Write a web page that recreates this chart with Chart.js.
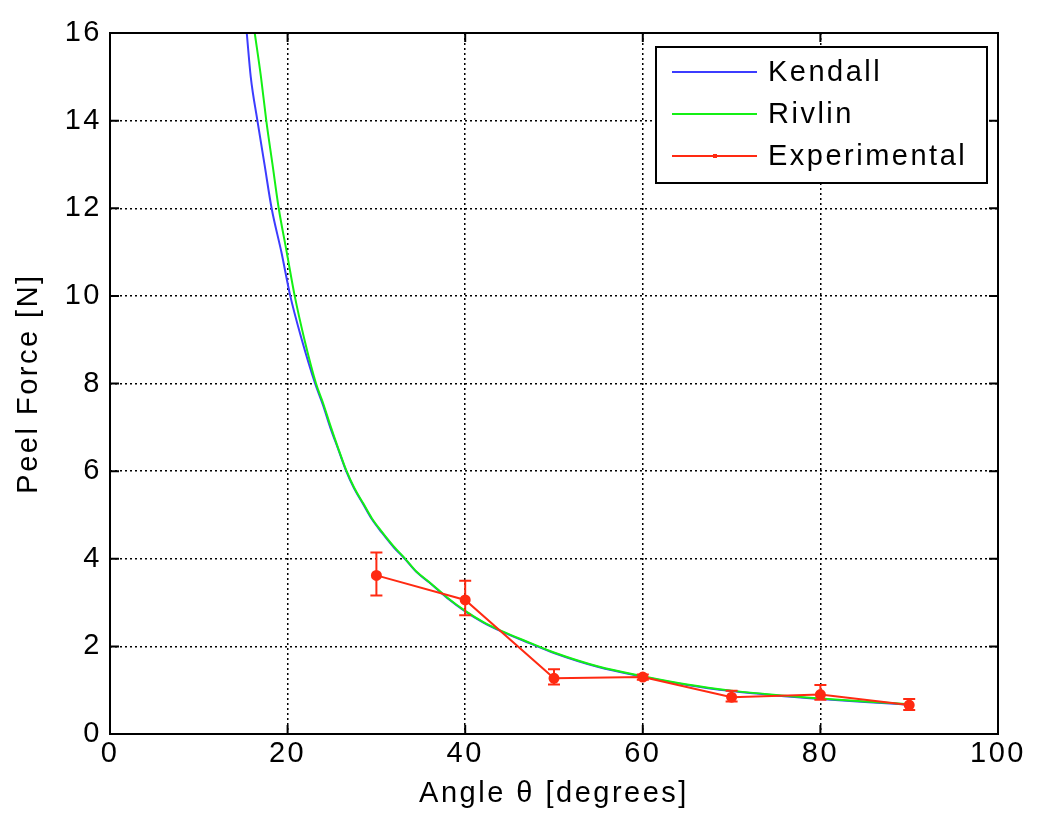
<!DOCTYPE html>
<html>
<head>
<meta charset="utf-8">
<script src="https://cdn.jsdelivr.net/npm/chart.js@4"></script>
<style>
  body { margin: 0; background: #fff; }
  #chart { display: block; }
</style>
</head>
<body>
<canvas id="chart" width="1038" height="813"></canvas>
<script>
// values
const kendallAngle = [15.4, 15.85, 16.6, 17.4, 18.2, 19.3, 20.3, 21.6, 23.1, 24.0, 24.8, 25.7, 26.6, 27.5, 28.5, 29.5, 30.6, 32.0, 33.2, 34.5, 36.0, 38.0, 40.0, 42.0, 44.0, 47.3, 50.0, 55.0, 60.0, 65.0, 70.0, 75.0, 80.0, 85.0, 90.0];
const kendallForce = [16.0, 15.0, 14.0, 13.0, 12.0, 11.0, 10.0, 9.0, 8.0, 7.5, 7.0, 6.5, 6.0, 5.6, 5.25, 4.9, 4.6, 4.25, 4.0, 3.7, 3.45, 3.1, 2.8, 2.55, 2.35, 2.07, 1.85, 1.53, 1.31, 1.12, 0.98, 0.88, 0.80, 0.73, 0.67];

const rivlinAngle = [16.3, 17.0, 17.6, 18.3, 19.0, 19.9, 20.8, 21.9, 23.2, 24.0, 24.8, 25.7, 26.6, 27.5, 28.5, 29.5, 30.6, 32.0, 33.2, 34.5, 36.0, 38.0, 40.0, 42.0, 44.0, 47.3, 50.0, 55.0, 60.0, 65.0, 70.0, 75.0, 80.0, 85.0, 90.0];
const rivlinForce = [16.0, 15.0, 14.0, 13.0, 12.0, 11.0, 10.0, 9.0, 8.0, 7.55, 7.05, 6.52, 6.02, 5.62, 5.27, 4.92, 4.62, 4.27, 4.01, 3.71, 3.46, 3.11, 2.81, 2.56, 2.36, 2.08, 1.86, 1.54, 1.32, 1.13, 0.99, 0.89, 0.81, 0.74, 0.68];

const expAngle = [30, 40, 50, 60, 70, 80, 90];
const expForce = [3.62, 3.06, 1.27, 1.30, 0.84, 0.90, 0.66];
const expUpper = [4.14, 3.50, 1.48, 1.36, 0.99, 1.12, 0.80];
const expLower = [3.16, 2.71, 1.13, 1.24, 0.74, 0.78, 0.55];

const xTicks = [0, 20, 40, 60, 80, 100];
const yTicks = [0, 2, 4, 6, 8, 10, 12, 14, 16];

const toPoints = (xs, ys) => xs.map((x, i) => ({ x: x, y: ys[i] }));

Chart.defaults.font.family = "'Liberation Sans', Arial, sans-serif";
Chart.defaults.color = '#000';

// wider letter spacing like the original figure font
// (set before each draw, the canvas state is reset when chart sizes it)
const spacing = {
  id: 'spacing',
  beforeDraw(chart) { chart.ctx.letterSpacing = '2.5px'; }
};

// error bars for the experimental series
const errorBars = {
  id: 'errorBars',
  afterDatasetsDraw(chart) {
    const ctx = chart.ctx;
    const xs = chart.scales.x, ys = chart.scales.y;
    ctx.save();
    ctx.strokeStyle = '#ff2a12';
    ctx.lineWidth = 2;
    expAngle.forEach((a, i) => {
      const px = xs.getPixelForValue(a);
      const top = ys.getPixelForValue(expUpper[i]);
      const bot = ys.getPixelForValue(expLower[i]);
      ctx.beginPath();
      ctx.moveTo(px, top); ctx.lineTo(px, bot);
      ctx.moveTo(px - 6, top); ctx.lineTo(px + 6, top);
      ctx.moveTo(px - 6, bot); ctx.lineTo(px + 6, bot);
      ctx.stroke();
    });
    ctx.restore();
  }
};

// matlab style box, inward ticks and legend
const frame = {
  id: 'frame',
  afterDraw(chart) {
    const ctx = chart.ctx;
    const a = chart.chartArea;
    const xs = chart.scales.x, ys = chart.scales.y;
    ctx.save();
    ctx.strokeStyle = '#000';
    ctx.lineWidth = 2;
    ctx.strokeRect(a.left, a.top, a.right - a.left, a.bottom - a.top);
    ctx.beginPath();
    xTicks.forEach(v => {
      const px = xs.getPixelForValue(v);
      ctx.moveTo(px, a.bottom); ctx.lineTo(px, a.bottom - 9);
      ctx.moveTo(px, a.top); ctx.lineTo(px, a.top + 9);
    });
    yTicks.forEach(v => {
      const py = ys.getPixelForValue(v);
      ctx.moveTo(a.left, py); ctx.lineTo(a.left + 9, py);
      ctx.moveTo(a.right, py); ctx.lineTo(a.right - 9, py);
    });
    ctx.stroke();

    // legend box
    const lx = 656, ly = 47, lw = 331, lh = 136;
    ctx.fillStyle = '#fff';
    ctx.fillRect(lx, ly, lw, lh);
    ctx.strokeRect(lx, ly, lw, lh);
    ctx.font = "29px 'Liberation Sans', Arial, sans-serif";
    ctx.letterSpacing = '2.5px';
    ctx.textBaseline = 'middle';
    const names = ['Kendall', 'Rivlin', 'Experimental'];
    names.forEach((name, i) => {
      const ds = chart.data.datasets.find(d => d.label === name);
      const y = ly + 25 + i * 42;
      ctx.strokeStyle = ds.borderColor;
      ctx.lineWidth = 2;
      ctx.beginPath();
      ctx.moveTo(672, y); ctx.lineTo(757, y);
      ctx.stroke();
      if (name === 'Experimental') {
        ctx.fillStyle = ds.borderColor;
        ctx.fillRect(713, y - 2, 4, 4);
      }
      ctx.fillStyle = '#000';
      ctx.fillText(name, 768, y + 1);
    });
    ctx.restore();
  }
};

const ctx = document.getElementById('chart').getContext('2d');
new Chart(ctx, {
  type: 'line',
  data: {
    datasets: [
      {
        label: 'Experimental',
        data: toPoints(expAngle, expForce),
        borderColor: '#ff2a12',
        backgroundColor: '#ff2a12',
        borderWidth: 2,
        pointRadius: 4.5,
        pointHoverRadius: 4.5,
        order: 0
      },
      {
        label: 'Rivlin',
        data: toPoints(rivlinAngle, rivlinForce),
        borderColor: '#14f014',
        borderWidth: 2,
        pointRadius: 0,
        cubicInterpolationMode: 'monotone',
        order: 1
      },
      {
        label: 'Kendall',
        data: toPoints(kendallAngle, kendallForce),
        borderColor: '#3c3cff',
        borderWidth: 2,
        pointRadius: 0,
        cubicInterpolationMode: 'monotone',
        order: 2
      }
    ]
  },
  options: {
    responsive: false,
    animation: false,
    layout: { padding: { top: 33, right: 40, left: 0, bottom: 0 } },
    plugins: {
      legend: { display: false },
      tooltip: { enabled: false }
    },
    scales: {
      x: {
        type: 'linear',
        min: 0, max: 100,
        afterBuildTicks: s => { s.ticks = xTicks.map(v => ({ value: v })); },
        afterFit: s => { s.height = 79; },
        grid: { color: '#000', lineWidth: 1.5, drawTicks: false },
        border: { display: false, dash: [2, 3] },
        ticks: { font: { size: 29 }, padding: 3, color: '#000' },
        title: {
          display: true,
          text: 'Angle θ [degrees]',
          font: { size: 29 },
          padding: { top: 0, bottom: 2 }
        }
      },
      y: {
        type: 'linear',
        min: 0, max: 16,
        afterBuildTicks: s => { s.ticks = yTicks.map(v => ({ value: v })); },
        afterFit: s => { s.width = 110; },
        grid: { color: '#000', lineWidth: 1.5, drawTicks: false },
        border: { display: false, dash: [2, 3] },
        ticks: { font: { size: 29 }, padding: 8, color: '#000' },
        title: {
          display: true,
          text: 'Peel Force [N]',
          font: { size: 29 },
          padding: { top: 12, bottom: 0 }
        }
      }
    }
  },
  plugins: [spacing, errorBars, frame]
});
</script>
</body>
</html>
